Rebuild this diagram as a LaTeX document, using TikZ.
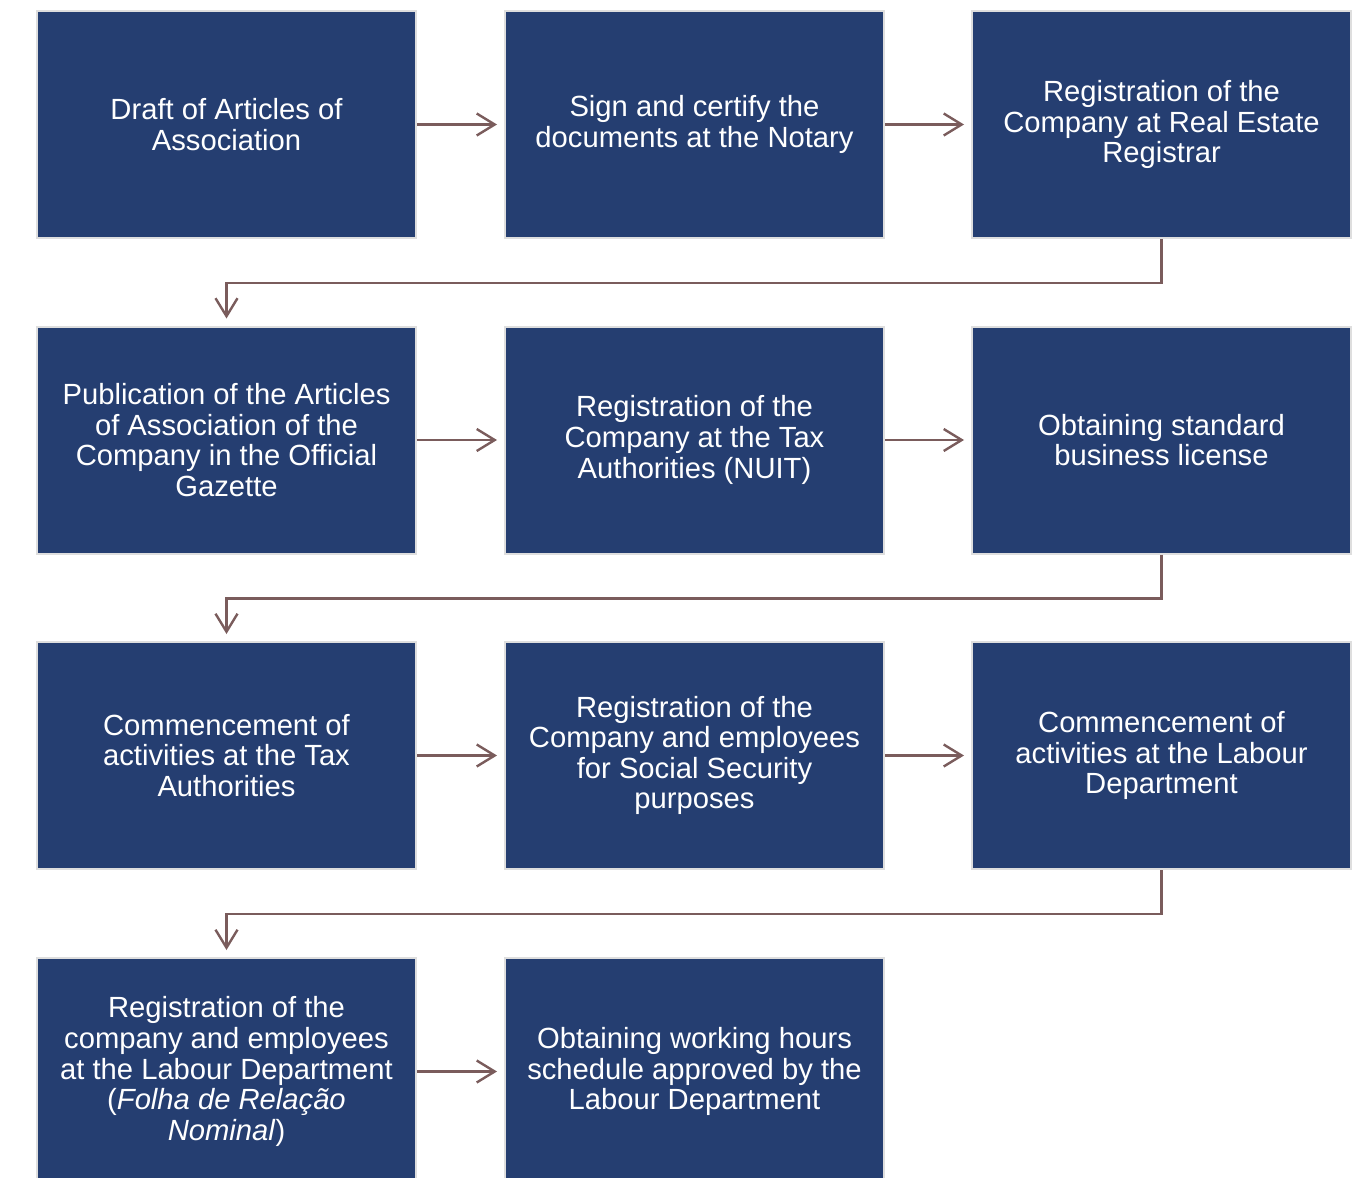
\documentclass[tikz,border=0pt]{standalone}
\usepackage{fontspec}
\setmainfont{Liberation Sans}
\usetikzlibrary{arrows.meta}
\definecolor{navy}{HTML}{253E71}
\definecolor{lnk}{HTML}{7A5C5C}
\definecolor{rim}{HTML}{DEDEDE}
\tikzset{
	step box/.style={draw=rim, line width=1pt, fill=navy, text=white, align=center,
		minimum width=189.5pt, minimum height=113.5pt, inner sep=0pt,
		font=\fontsize{14.6}{15.3}\selectfont},
	link/.style={draw=lnk, line width=1.2pt, -{Straight Barb[length=9pt, width=11pt]},
		shorten >=3.5pt}
}
\begin{document}
\begin{tikzpicture}[x=0.5pt, y=-0.5pt]
    \useasboundingbox (0, 0) rectangle (1364, 1177);
    \node[step box] (draft) at (226.5, 124.5) {Draft of Articles of\\Association};
    \node[step box] (notary) at (694.5, 124.5) {Sign and certify the\\documents at the Notary};
    \node[step box] (estate) at (1161.5, 124.5) {Registration of the\\Company at Real Estate\\Registrar};
    \node[step box] (gazette) at (226.5, 440) {Publication of the Articles\\of Association of the\\Company in the Official\\Gazette};
    \node[step box] (nuit) at (694.5, 440) {Registration of the\\Company at the Tax\\Authorities (NUIT)};
    \node[step box] (license) at (1161.5, 440) {Obtaining standard\\business license};
    \node[step box] (tax) at (226.5, 755.5) {Commencement of\\activities at the Tax\\Authorities};
    \node[step box] (social) at (694.5, 755.5) {Registration of the\\Company and employees\\for Social Security\\purposes};
    \node[step box] (labour) at (1161.5, 755.5) {Commencement of\\activities at the Labour\\Department};
    \node[step box] (folha) at (226.5, 1071.5) {Registration of the\\company and employees\\at the Labour Department\\(\textit{Folha de Relação}\\\textit{Nominal})};
    \node[step box] (hours) at (694.5, 1071.5) {Obtaining working hours\\schedule approved by the\\Labour Department};
    % row links
    \draw[link] (draft) -- (notary);
    \draw[link] (notary) -- (estate);
    \draw[link] (gazette) -- (nuit);
    \draw[link] (nuit) -- (license);
    \draw[link] (tax) -- (social);
    \draw[link] (social) -- (labour);
    \draw[link] (folha) -- (hours);
    % wrap to next row
    \draw[link] (estate.south) -- ++(0, 44) -| (gazette.north);
    \draw[link] (license.south) -- ++(0, 44) -| (tax.north);
    \draw[link] (labour.south) -- ++(0, 44) -| (folha.north);
\end{tikzpicture}
\end{document}
